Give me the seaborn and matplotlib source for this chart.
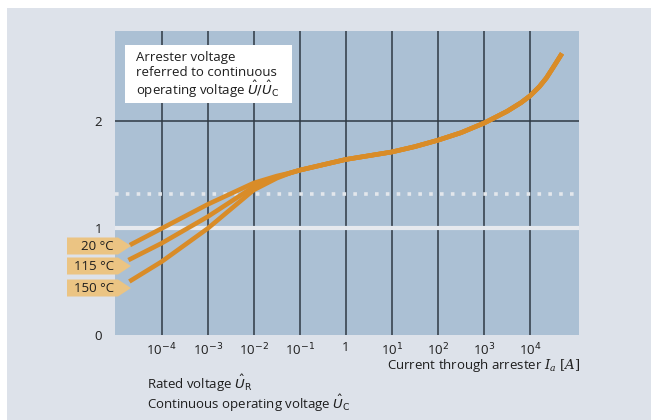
import numpy as np
import pandas as pd
import seaborn as sns
import matplotlib.pyplot as plt
from matplotlib.patches import Rectangle, Polygon

# log10 of current [A] and per-unit voltage
tail_logi = [-1.2, -1.0, -0.5, 0.0, 0.5, 1.0, 1.5, 2.0, 2.5, 3.0, 3.5, 3.8, 4.0, 4.2, 4.35, 4.5, 4.69]
tail_u = [1.515, 1.54, 1.59, 1.64, 1.675, 1.71, 1.76, 1.82, 1.89, 1.98, 2.09, 2.17, 2.235, 2.32, 2.40, 2.50, 2.63]

temps = ["20 °C", "115 °C", "150 °C"]
head_logi = {
    "20 °C": [-4.69, -4.0, -3.0, -2.0, -1.5],
    "115 °C": [-4.72, -4.0, -3.0, -2.0, -1.5],
    "150 °C": [-4.70, -4.0, -3.0, -2.0, -1.5],
}
head_u = {
    "20 °C": [0.84, 0.995, 1.22, 1.42, 1.485],
    "115 °C": [0.70, 0.857, 1.105, 1.385, 1.475],
    "150 °C": [0.50, 0.685, 0.995, 1.355, 1.465],
}

rated_u = 1.315
cont_u = 1.0

xtick_exp = [-4, -3, -2, -1, 0, 1, 2, 3, 4]
xtick_labels = ["10$^{-4}$", "10$^{-3}$", "10$^{-2}$", "10$^{-1}$", "1",
                "10$^{1}$", "10$^{2}$", "10$^{3}$", "10$^{4}$"]

rows = []
for t in temps:
    for lx, u in zip(head_logi[t] + tail_logi, head_u[t] + tail_u):
        rows.append({"current": 10 ** lx, "u": u, "temp": t})
df = pd.DataFrame(rows)

sns.set_style("white")
plt.rcParams["font.family"] = ["Open Sans", "DejaVu Sans"]

panel = "#dde2ea"
blue = "#abc0d4"
orange = "#d98c28"
tag = "#ebc483"
dark = "#2f3944"
ink = "#1e1e1e"
fs = 9.5

fig = plt.figure(figsize=(6.51, 4.20), dpi=100, facecolor="white")
fig.patches.append(Rectangle((7 / 651, 0), 1, 1 - 8 / 420, transform=fig.transFigure,
                             facecolor=panel, edgecolor="none", zorder=-10))
ax = fig.add_axes([114.6 / 651, 1 - 335 / 420, (579 - 114.6) / 651, (335 - 31) / 420])
ax.set_facecolor(blue)

ax.set_xscale("log")
ax.set_xlim(10 ** -5.02, 10 ** 5.06)
ax.set_ylim(0, 2.84)

for e in xtick_exp:
    ax.axvline(10 ** e, color=dark, lw=1.1, zorder=1)
ax.axhline(2, color=dark, lw=1.1, zorder=1)
ax.axhline(cont_u, color="#e6e9ee", lw=3, zorder=2)
ax.axhline(rated_u, color="#e3e7ec", lw=2.6, ls=(0, (1, 2)), dash_capstyle="butt", zorder=2)

sns.lineplot(data=df, x="current", y="u", units="temp", estimator=None, sort=False,
             color=orange, lw=3.3, ax=ax, zorder=3, solid_capstyle="butt")
for l in ax.get_lines():
    l.set_solid_joinstyle("round")

for s in ax.spines.values():
    s.set_visible(False)

ax.set_xticks([10 ** e for e in xtick_exp])
ax.set_xticklabels(xtick_labels)
ax.minorticks_off()
ax.set_yticks([0, 1, 2])
ax.tick_params(axis="x", length=5, width=1, color=dark, direction="inout", pad=2,
               labelsize=fs, labelcolor=ink)
ax.tick_params(axis="y", length=6, width=1, color=dark, direction="out", pad=3,
               labelsize=fs, labelcolor=ink)
ax.set_xlabel("")
ax.set_ylabel("")

# text box in the upper left
fig.patches.append(Rectangle((125 / 651, 1 - 103 / 420), 167 / 651, 58 / 420,
                             transform=fig.transFigure, facecolor="white",
                             edgecolor="none", zorder=5))
box_lines = ["Arrester voltage", "referred to continuous",
             r"operating voltage $\hat{U}/\hat{U}_\mathrm{C}$"]
for i, s in enumerate(box_lines):
    fig.text(136 / 651, 1 - (57 + 16 * i) / 420, s, ha="left", va="center",
             fontsize=fs, color=ink, zorder=6)

# temperature tags
tag_centres = [246, 266, 288]
for t, yc in zip(temps, tag_centres):
    h = 8.5
    pts = [(67, yc - h), (118, yc - h), (131, yc), (118, yc + h), (67, yc + h)]
    pts = [(px / 651, 1 - py / 420) for px, py in pts]
    fig.patches.append(Polygon(pts, closed=True, transform=fig.transFigure,
                               facecolor=tag, edgecolor="none", zorder=5))
    fig.text(114 / 651, 1 - yc / 420, t, ha="right", va="center",
             fontsize=fs, color=ink, zorder=6)

fig.text(580 / 651, 1 - 366 / 420, r"Current through arrester $I_a\ \mathit{[A]}$",
         ha="right", va="center", fontsize=fs, color=ink,
         math_fontfamily="dejavuserif")
fig.text(147 / 651, 1 - 383 / 420, r"Rated voltage $\hat{U}_\mathrm{R}$",
         ha="left", va="center", fontsize=fs, color=ink)
fig.text(147 / 651, 1 - 403 / 420, r"Continuous operating voltage $\hat{U}_\mathrm{C}$",
         ha="left", va="center", fontsize=fs, color=ink)

fig.savefig("out.png", dpi=100, facecolor=fig.get_facecolor())
